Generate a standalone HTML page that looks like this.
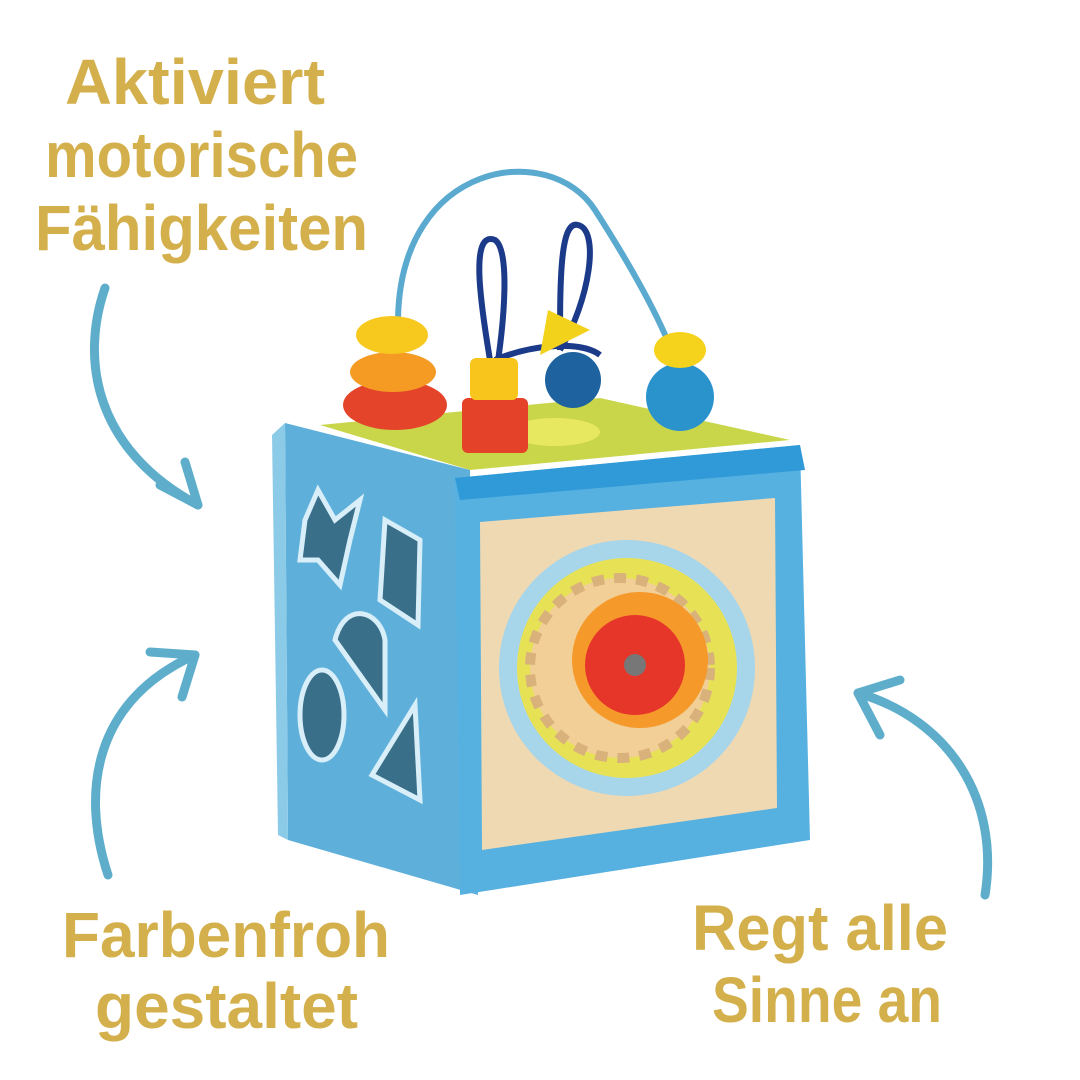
<!DOCTYPE html>
<html><head><meta charset="utf-8"><style>
html,body{margin:0;padding:0;background:#fff;}
body{width:1080px;height:1080px;overflow:hidden;position:relative;}
svg{position:absolute;left:0;top:0;}
.t{font-family:"Liberation Sans",sans-serif;font-weight:bold;fill:#d4b04c;}
</style></head><body>
<svg width="1080" height="1080" viewBox="0 0 1080 1080">
<!-- text -->
<text class="t" x="65" y="104" font-size="64" textLength="260" lengthAdjust="spacingAndGlyphs">Aktiviert</text>
<text class="t" x="45" y="177" font-size="64" textLength="313" lengthAdjust="spacingAndGlyphs">motorische</text>
<text class="t" x="35" y="250" font-size="64" textLength="333" lengthAdjust="spacingAndGlyphs">Fähigkeiten</text>
<text class="t" x="62" y="957" font-size="64" textLength="328" lengthAdjust="spacingAndGlyphs">Farbenfroh</text>
<text class="t" x="95" y="1028" font-size="64" textLength="263" lengthAdjust="spacingAndGlyphs">gestaltet</text>
<text class="t" x="692" y="950" font-size="64" textLength="256" lengthAdjust="spacingAndGlyphs">Regt alle</text>
<text class="t" x="712" y="1022" font-size="64" textLength="230" lengthAdjust="spacingAndGlyphs">Sinne an</text>
<!-- arrows -->
<g fill="none" stroke="#5eaecb" stroke-width="9" stroke-linecap="round" stroke-linejoin="round">
<path d="M105 288 C80 360 95 450 198 505"/>
<path d="M160 485 L198 505 L185 462"/>
<path d="M108 875 C80 790 95 700 195 655"/>
<path d="M150 652 L195 655 L182 697"/>
<path d="M985 895 C1000 800 950 720 858 693"/>
<path d="M900 680 L858 693 L880 735"/>
</g>
<!-- wire loops -->
<path d="M398 320 C400 160 550 140 595 210 C640 280 665 330 675 360" fill="none" stroke="#5aa9cf" stroke-width="6"/>
<path d="M490 360 C480 300 470 230 495 240 C510 250 505 320 495 380" fill="none" stroke="#1c3a8a" stroke-width="6"/>
<path d="M560 350 C560 280 560 220 578 225 C600 230 590 300 560 350" fill="none" stroke="#1c3a8a" stroke-width="6"/>
<path d="M495 360 C530 345 580 340 600 355" fill="none" stroke="#1c3a8a" stroke-width="6"/>
<!-- top face -->
<polygon points="320,425 600,398 790,440 470,470" fill="#c9d64a"/>
<ellipse cx="555" cy="432" rx="45" ry="14" fill="#e8e860"/>
<!-- beads -->
<ellipse cx="395" cy="405" rx="52" ry="25" fill="#e4452a"/>
<ellipse cx="393" cy="372" rx="43" ry="20" fill="#f59a23"/>
<ellipse cx="392" cy="335" rx="36" ry="19" fill="#f7c81e"/>
<rect x="462" y="398" width="66" height="55" rx="6" fill="#e4432a"/>
<rect x="470" y="358" width="48" height="42" rx="6" fill="#f8c51c"/>
<circle cx="573" cy="380" r="28" fill="#1e63a0"/>
<polygon points="540,355 590,330 548,310" fill="#f3d21c"/>
<circle cx="680" cy="397" r="34" fill="#2b93cc"/>
<ellipse cx="680" cy="350" rx="26" ry="18" fill="#f5d31c"/>
<!-- left face -->
<polygon points="285,423 470,470 478,895 288,840" fill="#5eb0db"/>
<polygon points="272,435 285,423 288,840 278,835" fill="#8ccbe8"/>
<polygon points="318,490 335,520 360,500 350,540 340,585 318,560 300,560 305,520" fill="#3a6f8a" stroke="#d8eef8" stroke-width="5"/>
<polygon points="385,520 420,540 418,625 380,600" fill="#3a6f8a" stroke="#d8eef8" stroke-width="5"/>
<path d="M335 640 C345 600 380 610 385 640 L385 710 Z" fill="#3a6f8a" stroke="#d8eef8" stroke-width="5"/>
<ellipse cx="322" cy="715" rx="22" ry="45" fill="#3a6f8a" stroke="#d8eef8" stroke-width="5"/>
<polygon points="372,775 415,705 420,800" fill="#3a6f8a" stroke="#d8eef8" stroke-width="5"/>
<!-- front face -->
<polygon points="455,478 800,445 810,840 460,895" fill="#56b0e0"/>
<polygon points="455,478 800,445 805,470 460,500" fill="#2f9ad7"/>
<polygon points="480,522 775,498 777,808 482,850" fill="#efd9b2"/>
<!-- gear disc -->
<circle cx="627" cy="668" r="128" fill="#a7d5ea"/>
<circle cx="627" cy="668" r="110" fill="#e7e255"/>
<circle cx="620" cy="668" r="90" fill="#f2cf97" stroke="#d8b27a" stroke-width="10" stroke-dasharray="12 10"/>
<circle cx="640" cy="660" r="68" fill="#f5992a"/>
<circle cx="635" cy="665" r="50" fill="#e6362a"/>
<circle cx="635" cy="665" r="11" fill="#777"/>
</svg>
</body></html>
